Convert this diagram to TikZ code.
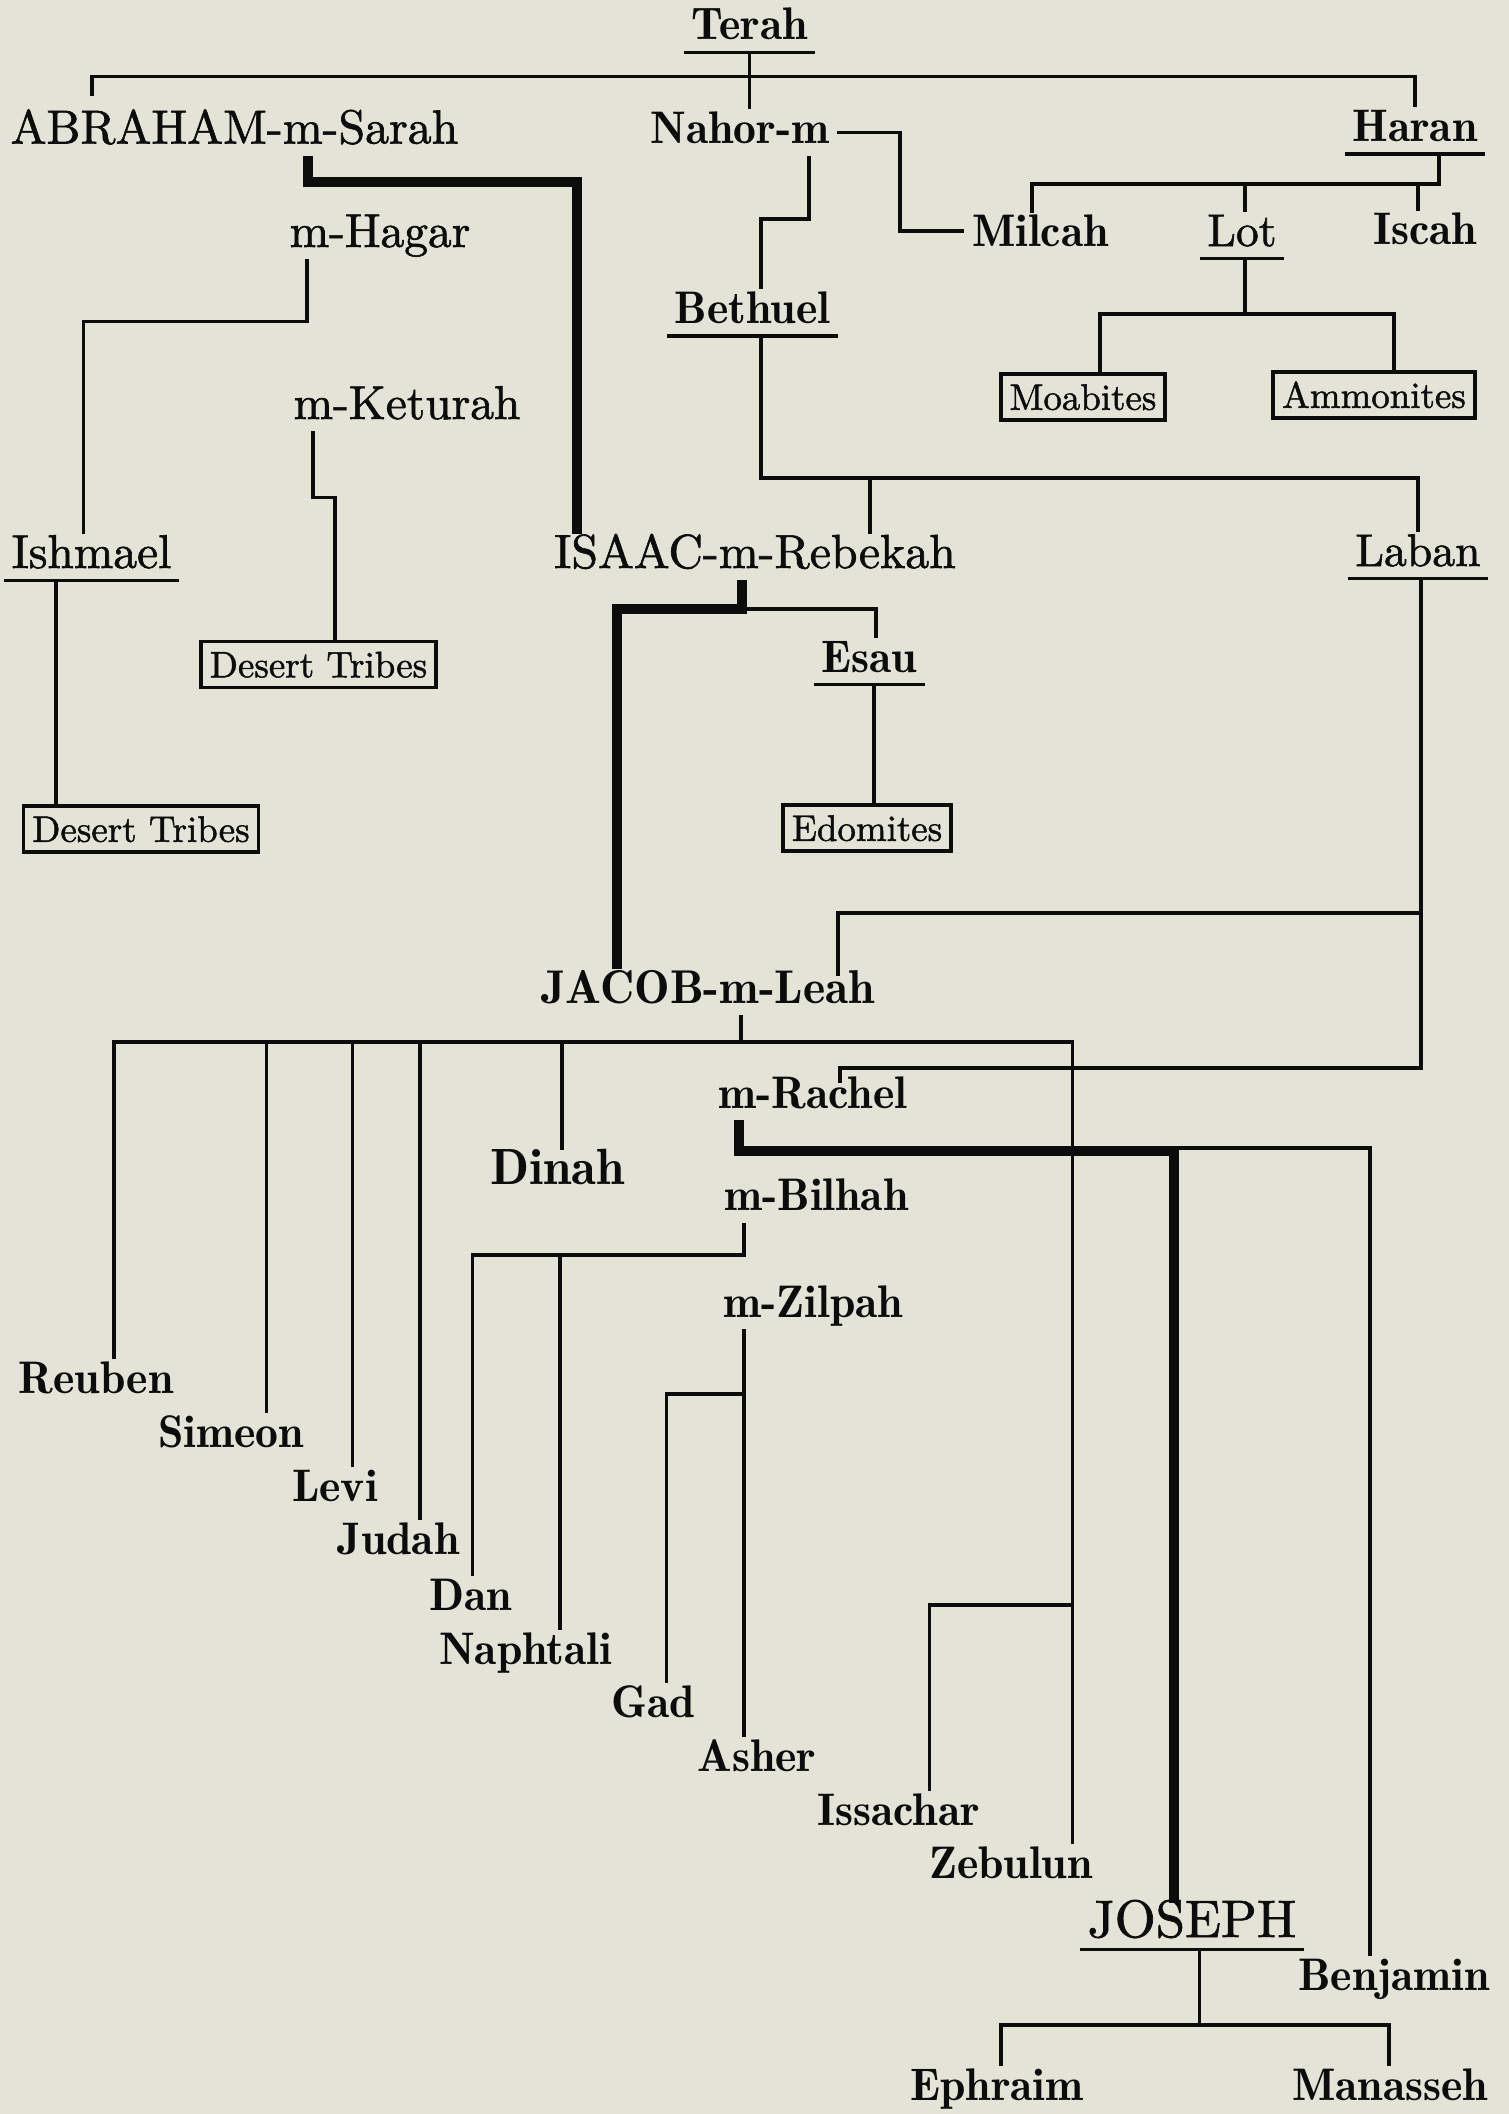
\documentclass[tikz,border=0pt]{standalone}
\usepackage{fontspec}
\newfontfamily\medfont{lmroman10-regular.otf}[FakeBold=1.3]

\definecolor{paper}{RGB}{227,227,215}
\definecolor{ink}{RGB}{12,12,12}

\tikzset{
	nm/.style={anchor=base, inner xsep=2pt, inner ysep=0.5pt, text height=9pt, text depth=2.8pt, text=ink, font=\medfont\fontsize{13}{15}\selectfont},
	bignm/.style={nm, font=\medfont\fontsize{13.6}{16}\selectfont},
	bnm/.style={nm, font=\fontsize{13}{15}\selectfont\fontseries{b}\selectfont},
	tribe/.style={draw=ink, line width=1.1pt, inner xsep=2.5pt, inner ysep=0pt, minimum height=4.6mm, text height=7.3pt, text depth=0pt, text=ink, font=\medfont\fontsize{10.5}{12}\selectfont},
	thinline/.style={draw=ink, line width=1pt},
	heavy/.style={draw=ink, line width=3pt}
}

\begin{document}
\begin{tikzpicture}[x=0.1mm, y=-0.1mm]
	\fill[paper] (0,0) rectangle (1509,2114);
	\useasboundingbox (0,0) rectangle (1509,2114);
	
	%the fathers
	\node[bnm] (terah) at (749.5,40) {Terah};
	\node[bignm] (abraham) at (234.5,143.5) {ABRAHAM-m-Sarah};
	\node[bnm] (nahor) at (740,143.5) {Nahor-m};
	\node[bnm] (haran) at (1415,141.5) {Haran};
	\node[nm, font=\medfont\fontsize{13.5}{15}\selectfont] (hagar) at (380,247) {m-Hagar};
	\node[bnm] (milcah) at (1040.5,247) {Milcah};
	\node[nm] (lot) at (1242,246) {Lot};
	\node[bnm] (iscah) at (1425,245) {Iscah};
	\node[bnm] (bethuel) at (752.5,323.5) {Bethuel};
	\node[nm, font=\medfont\fontsize{13.5}{15}\selectfont] (keturah) at (407,419) {m-Keturah};
	\node[nm, font=\medfont\fontsize{13.5}{15}\selectfont] (ishmael) at (91.5,568) {Ishmael};
	\node[bignm] (isaac) at (755,568) {ISAAC-m-Rebekah};
	\node[nm] (laban) at (1418,566) {Laban};
	\node[bnm] (esau) at (869.5,672) {Esau};
	\node[bnm, font=\fontsize{13.5}{15}\selectfont\fontseries{b}\selectfont] (jacob) at (708,1003) {JACOB-m-Leah};
	\node[bnm] (rachel) at (813,1108) {m-Rachel};
	\node[bnm] (bilhah) at (816.5,1210.5) {m-Bilhah};
	\node[bnm] (zilpah) at (813.5,1317) {m-Zilpah};
	\node[nm, font=\medfont\fontsize{15}{17}\selectfont] (joseph) at (1192,1937) {JOSEPH};
	
	%the peoples
	\node[tribe] (moab) at (1083,397) {Moabites};
	\node[tribe] (ammon) at (1374,395) {Ammonites};
	\node[tribe] (dt1) at (318.5,664.5) {Desert Tribes};
	\node[tribe] (edom) at (867,828) {Edomites};
	\node[tribe] (dt2) at (141,829) {Desert Tribes};
	
	%the sons of Jacob
	\node[bnm, font=\fontsize{14.5}{16}\selectfont\fontseries{b}\selectfont] (dinah) at (557.5,1184) {Dinah};
	\foreach \n/\x/\y/\t in {reuben/96/1393.5/Reuben, simeon/231/1447.5/Simeon,
		levi/335/1501/Levi, judah/398.5/1554.5/Judah, dan/470.5/1610/Dan, naphtali/525.5/1664/Naphtali,
		gad/653/1717/Gad, asher/757/1771.5/Asher, issachar/898.5/1825/Issachar, zebulun/1011/1878/Zebulun,
		benjamin/1394/1990/Benjamin, ephraim/997/2100/Ephraim, manasseh/1390/2100/Manasseh}
		\node[bnm] (\n) at (\x,\y) {\t};
	
	%Terah
	\coordinate (tbar) at (748,76.5);
	\coordinate (aleg) at (92,96);
	\draw[thinline] (terah.south) -- (terah.south |- nahor.north);
	\draw[thinline] (aleg) |- (tbar) -| (haran.north);
	
	%Abraham, Hagar, Keturah
	\coordinate (sbend) at (577,182);
	\coordinate (hgbend) at (83.5,321.5);
	\coordinate (ktbend) at (335,497.5);
	\draw[thinline] (hagar.south -| 307,0) |- (hgbend) -- (hgbend |- ishmael.north);
	\draw[thinline] (ishmael.south -| 56,0) -- (dt2.north -| 56,0);
	\draw[thinline] (keturah.south -| 313,0) |- (ktbend) -- (ktbend |- dt1.north);
	\draw[heavy] (abraham.south -| 308,0) |- (sbend) -- (sbend |- isaac.north);
	
	%Nahor and Bethuel
	\coordinate (nmbend) at (900,231);
	\coordinate (nbbend) at (761,219);
	\coordinate (bbar) at (870,478);
	\draw[thinline] (nahor.east) -| (nmbend) -- (nmbend -| milcah.west);
	\draw[thinline] (nahor.south -| 809,0) |- (nbbend) -- (nbbend |- bethuel.north);
	\draw[thinline] (bethuel.south -| nbbend) |- (bbar) -| (laban.north);
	\draw[thinline] (bbar) -- (bbar |- isaac.north);
	
	%Haran and Lot
	\coordinate (hbar) at (1245,184);
	\coordinate (lbar) at (1245,314);
	\draw[thinline] (haran.south -| 1439,0) |- (hbar) -| (milcah.north -| 1032,0);
	\draw[thinline] (hbar) -- (hbar |- lot.north);
	\draw[thinline] (hbar -| 1418,0) -- (iscah.north -| 1418,0);
	\draw[thinline] (lot.south -| lbar) -- (lbar);
	\draw[thinline] (moab.north -| 1100,0) |- (lbar) -| (ammon.north -| 1394,0);
	
	%Isaac and Esau
	\coordinate (ibend) at (742,609);
	\draw[thinline] (ibend) -| (esau.north -| 876,0);
	\draw[thinline] (esau.south -| 874,0) -- (edom.north -| 874,0);
	\draw[heavy] (isaac.south -| ibend) -- (ibend) -| (jacob.north -| 617,0);
	
	%Laban
	\coordinate (llbend) at (1421,913);
	\coordinate (lrbend) at (1421,1068);
	\coordinate (leahtop) at (838,976);
	\coordinate (racheltop) at (840,1083);
	\draw[thinline] (laban.south -| lrbend) -- (lrbend) -| (racheltop);
	\draw[thinline] (llbend) -| (leahtop);
	
	%Jacob and Leah
	\coordinate (jbar) at (741,1042);
	\coordinate (isbend) at (1072.5,1605);
	\draw[thinline] (jacob.south -| jbar) -- (jbar);
	\draw[thinline] (reuben.north -| 114,0) |- (jbar) -| (zebulun.north -| 1072.5,0);
	\foreach \n/\x in {simeon/266.5, levi/352.5, judah/420, dinah/562}
		\draw[thinline] (jbar -| \x,0) -- (\n.north -| \x,0);
	\draw[thinline] (isbend) -| (issachar.north -| 929.5,0);
	
	%Rachel
	\coordinate (rbend) at (1174,1151);
	\draw[thinline] ([yshift=0.3mm]rbend) -| (benjamin.north -| 1370,0);
	\draw[heavy] (rachel.south -| 739,0) |- (rbend) -- (rbend |- joseph.north);
	
	%Bilhah and Zilpah
	\coordinate (bhbend) at (744,1255);
	\coordinate (zpbend) at (744,1394);
	\draw[thinline] (bilhah.south -| bhbend) -- (bhbend) -| (dan.north -| 472.5,0);
	\draw[thinline] (bhbend -| 560,0) -- (naphtali.north -| 560,0);
	\draw[thinline] (zilpah.south -| zpbend) -- (asher.north -| zpbend);
	\draw[thinline] (zpbend) -| (gad.north -| 666.5,0);
	
	%Joseph
	\coordinate (jsbar) at (1199.5,2025);
	\draw[thinline] (joseph.south -| jsbar) -- (jsbar);
	\draw[thinline] (ephraim.north -| 1001,0) |- (jsbar) -| (manasseh.north -| 1389,0);
	
	%underlines
	\foreach \n in {terah,haran,lot,bethuel,ishmael,laban,esau,joseph}
		\draw[thinline] (\n.south west) -- (\n.south east);
\end{tikzpicture}
\end{document}
